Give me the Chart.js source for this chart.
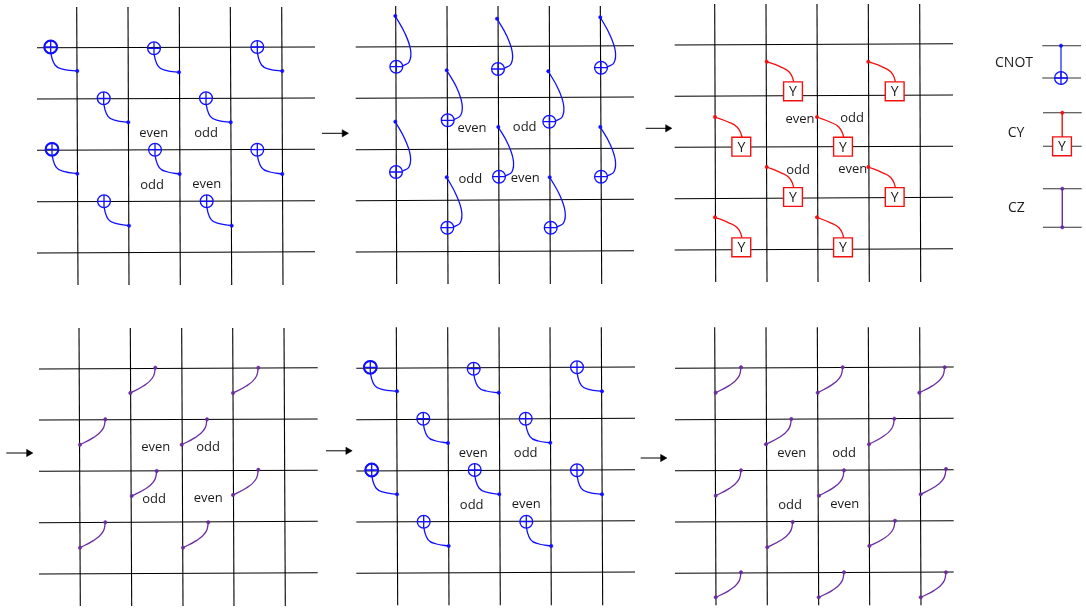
<!DOCTYPE html>
<html>
<head>
<meta charset="utf-8">
<title>Syndrome circuit</title>
<script src="https://cdn.jsdelivr.net/npm/chart.js@4/dist/chart.umd.min.js"></script>
<style>
  html, body { margin: 0; padding: 0; background: #fff; }
  canvas { display: block; }
</style>
</head>
<body>
<canvas id="circuitChart" width="1086" height="610"></canvas>
<script>
// Grid of each of the six panels
const gridLeftX = [37, 355.7, 674.7, 39, 356.3, 675];
const gridRightX = [315, 634, 953, 317.7, 635, 953.7];
const gridTopY = [7, 6, 4, 328, 327.3, 327.3];
const gridBottomY = [285, 284, 282, 606, 605.3, 605.3];
const rowLeftY = [
  [47.7, 99, 150.3, 201.7, 253],
  [47, 98.3, 149.7, 200.7, 252],
  [45, 96.3, 147.3, 198.7, 250],
  [369, 420, 471.3, 522.7, 574],
  [368.3, 419.7, 471, 522, 573.3],
  [368.3, 419.7, 470.7, 522, 573.3],
];
const rowRightY = [
  [47, 98, 149.3, 200.7, 251.7],
  [45.7, 97, 148.3, 199.3, 250.7],
  [43.7, 95, 146.3, 197.3, 248.7],
  [367.7, 419, 470.3, 521.3, 572.7],
  [367, 418.3, 469.7, 520.7, 572],
  [367, 418.3, 469.7, 520.7, 572],
];
const colTopX = [
  [76.7, 128, 179.3, 230.3, 281.7],
  [395.7, 447, 498, 549.3, 600.3],
  [714.7, 766, 817, 868.3, 919.7],
  [79, 130.3, 181.7, 232.7, 284],
  [396.3, 447.7, 499, 550, 601.3],
  [714.7, 766, 817.3, 868.3, 919.7],
];
const colBottomX = [
  [78, 129, 180.3, 231.7, 283],
  [396.7, 448, 499.3, 550.3, 601.7],
  [715.7, 767, 818, 869.3, 920.7],
  [80.3, 131.7, 183, 234, 285.3],
  [397.7, 449, 500.3, 551.3, 602.7],
  [716, 767.3, 818.7, 869.7, 921],
];

// CNOT gates, target below-left of the control (panels 1 and 5)
const cnotTargetX = [50.7, 154, 257.3, 103.7, 206, 52, 155, 257.3, 104, 206.7,
  370.3, 473.7, 577, 423.3, 525.7, 371.7, 474.7, 577, 423.7, 526.3];
const cnotTargetY = [47, 48.3, 47, 98.3, 98.3, 149.3, 149.7, 149.7, 201.3, 201.3,
  367.3, 368.7, 367.3, 418.7, 418.7, 470, 470, 470.3, 521.7, 521.7];
const cnotDotX = [77.3, 179, 282.3, 128.3, 230.7, 77.3, 179.7, 282.3, 129, 231.7,
  397, 498.7, 602, 448, 550.3, 397, 499.3, 602, 448.7, 551.3];
const cnotDotY = [71, 72.3, 71, 122.3, 122.3, 173.7, 174, 174, 225.7, 225.7,
  391.3, 392.7, 391.3, 443, 442.7, 494.3, 494.3, 494.3, 546, 546];
const cnotBendX = [1.2, 4.3, 12.7];
const cnotBendY = [11, 18, 22.3];

// CNOT gates, control above the target (panel 2)
const upTargetX = [396.3, 498, 601, 447.7, 549.3, 396, 499, 601, 447.3, 550.7];
const upTargetY = [66.7, 69, 67.7, 120.3, 121.7, 172, 176.7, 176.7, 227.7, 227.7];
const upDotX = [395.3, 497, 600.3, 446.7, 548.3, 395.3, 498.3, 600.3, 446.7, 549.7];
const upDotY = [16, 18.7, 17.3, 70.3, 71.3, 121.7, 127, 127, 177.3, 177.3];
const upBendX = [8.7, 14.3, 13, 6.3];
const upBendY = [-33.3, -16.7, -5, -0.7];

// Doubled target circles
const boldTargetX = [50.7, 52, 370.3, 371.7];
const boldTargetY = [47, 149.3, 367.3, 470];

// CY gates (panel 3)
const cyBoxX = [793, 894.7, 741.3, 843, 793, 894.7, 741.3, 843];
const cyBoxY = [91.3, 91.3, 146.7, 146.7, 197, 197, 247.3, 247.3];
const cyDotX = [766.7, 868.3, 715, 817, 766.7, 868.3, 715, 817];
const cyDotY = [61.7, 61.7, 117, 117, 167, 167, 217.3, 217.3];
const cyBendX = [-13, -4, -0.6];
const cyBendY = [-24.7, -19.5, -14];

// CZ gates (panels 4 and 6): lower end and upper end
const czLowX = [130.3, 233, 80, 181.7, 131.7, 233, 80, 183,
  715.7, 817.7, 919.3, 766, 869, 715.7, 819, 920.7, 767.3, 869.3, 715.7, 818.7, 920.7];
const czLowY = [393, 393, 444.7, 444.7, 496, 495, 547.7, 547.7,
  392.7, 392.7, 392.7, 444.3, 444.3, 495.7, 495.7, 494.3, 547.3, 546, 597.3, 597.3, 597.3];
const czHighX = [155.3, 258.3, 105.3, 207, 156.7, 258.3, 105.3, 208.3,
  741, 842.7, 944.7, 791.3, 894.3, 741, 844, 946, 792.7, 895, 741, 844, 946];
const czHighY = [367.7, 367.7, 419.3, 419.3, 471, 469.7, 522.3, 522.3,
  367.3, 367.3, 367.3, 419, 418.7, 470.3, 470.3, 469, 522, 520.7, 572.3, 572.3, 572.3];
const czBendX = [-12, -3.7, -0.8];
const czBendY = [18.3, 11.3, 5.5];

// Arrows between the panels
const arrowStartX = [322, 645.7, 6.3, 326, 640.7];
const arrowEndX = [347.3, 670.7, 31.7, 351, 665.7];
const arrowY = [133.3, 128.3, 453, 450.8, 458];

// Legend
const legendWireLeftX = [1042.3, 1042.3, 1043, 1043, 1043, 1043];
const legendWireRightX = [1081, 1081, 1081.7, 1081.7, 1081.7, 1081.7];
const legendWireY = [45.7, 78, 112.7, 146.3, 188.7, 227.3];

// Text
const parityText = ["even", "odd", "odd", "even", "even", "odd", "odd", "even",
  "even", "odd", "odd", "even", "even", "odd", "odd", "even",
  "even", "odd", "odd", "even", "even", "odd", "odd", "even"];
const parityX = [153.7, 206, 152, 206.7, 472, 524.7, 470.3, 525.3,
  800, 852, 798, 852.7, 155.7, 208, 154, 208.3,
  473.3, 525.7, 471.7, 526.3, 791.7, 844, 790, 844.7];
const parityY = [132.7, 132.3, 184.3, 183.3, 127.7, 126, 178, 177.7,
  118.3, 117, 169, 168.3, 446.7, 446.3, 498.3, 497.3,
  452.7, 452.3, 504, 503.3, 452.7, 452, 504, 503.3];
const gateNames = ["CNOT", "CY", "CZ"];
const gateNameX = [1014, 1016, 1016.3];
const gateNameY = [62, 132, 206.7];

const BLUE = "#1010ff";
const RED = "#f40f0f";
const PURPLE = "#6a2ca0";

function zipPoints(xs, ys) {
  return xs.map((x, i) => ({ x: x, y: ys[i] }));
}

function lineSet(points, color, width, order, tension) {
  return {
    data: points,
    showLine: true,
    borderColor: color,
    borderWidth: width,
    pointRadius: 0,
    tension: tension || 0,
    order: order,
  };
}

function markSet(points, style, radius, stroke, fill, width, order, rotation) {
  return {
    data: points,
    showLine: false,
    pointStyle: style,
    pointRadius: radius,
    pointBorderColor: stroke,
    pointBackgroundColor: fill,
    pointBorderWidth: width,
    pointRotation: rotation || 0,
    order: order,
  };
}

// Curve between two read points, with waypoints read relative to one anchor
function curve(start, anchorX, anchorY, bendX, bendY, end, color) {
  const points = [start];
  bendX.forEach((dx, i) => points.push({ x: anchorX + dx, y: anchorY + bendY[i] }));
  points.push(end);
  const set = lineSet(points, color, 1.3, 4);
  set.cubicInterpolationMode = "monotone";
  return set;
}

const datasets = [];

// Grid wires
gridLeftX.forEach((left, p) => {
  rowLeftY[p].forEach((y, i) => {
    datasets.push(lineSet([{ x: left, y: y }, { x: gridRightX[p], y: rowRightY[p][i] }], "#000", 1.1, 6));
  });
  colTopX[p].forEach((x, i) => {
    datasets.push(lineSet([{ x: x, y: gridTopY[p] }, { x: colBottomX[p][i], y: gridBottomY[p] }], "#000", 1.1, 6));
  });
});

// Legend wires and gate stems
legendWireY.forEach((y, i) => {
  datasets.push(lineSet([{ x: legendWireLeftX[i], y: y }, { x: legendWireRightX[i], y: y }], "#333", 1.1, 6));
});
datasets.push(lineSet([{ x: 1061, y: legendWireY[0] }, { x: 1061, y: legendWireY[1] }], "#3a4cff", 1.5, 5));
datasets.push(lineSet([{ x: 1062.2, y: legendWireY[2] }, { x: 1062.2, y: legendWireY[3] }], RED, 1.4, 5));
datasets.push(lineSet([{ x: 1062.3, y: legendWireY[4] }, { x: 1062.3, y: legendWireY[5] }], PURPLE, 1.4, 5));

// CNOT curves
cnotTargetX.forEach((x, i) => {
  const y = cnotTargetY[i];
  datasets.push(curve({ x: x + 0.3, y: y + 6.5 }, x, y, cnotBendX, cnotBendY,
    { x: cnotDotX[i], y: cnotDotY[i] }, BLUE));
});
upTargetX.forEach((x, i) => {
  const y = upTargetY[i];
  const points = [{ x: upDotX[i], y: upDotY[i] }];
  upBendX.forEach((dx, k) => points.push({ x: x + dx, y: y + upBendY[k] }));
  datasets.push(lineSet(points, BLUE, 1.3, 4, 0.4));
});

// CY curves
cyBoxX.forEach((x, i) => {
  const y = cyBoxY[i];
  datasets.push(curve({ x: cyDotX[i], y: cyDotY[i] }, x, y, cyBendX, cyBendY,
    { x: x + 0.7, y: y - 9.5 }, RED));
});

// CZ curves
czLowX.forEach((x, i) => {
  datasets.push(curve({ x: x, y: czLowY[i] }, czHighX[i], czHighY[i], czBendX, czBendY,
    { x: czHighX[i], y: czHighY[i] }, PURPLE));
});

// Gate marks
const targets = zipPoints(cnotTargetX, cnotTargetY).concat(zipPoints(upTargetX, upTargetY), [{ x: 1061, y: 78 }]);
const controls = zipPoints(cnotDotX, cnotDotY).concat(zipPoints(upDotX, upDotY), [{ x: 1061, y: 45.7 }]);
datasets.push(markSet(targets, "circle", 6.4, BLUE, "rgba(0,0,0,0)", 1.3, 2));
datasets.push(markSet(targets, "cross", 6.4, BLUE, BLUE, 1.3, 2));
datasets.push(markSet(zipPoints(boldTargetX, boldTargetY), "circle", 6.4, BLUE, "rgba(0,0,0,0)", 2, 2));
datasets.push(markSet(controls, "circle", 1.7, BLUE, BLUE, 0.5, 2));

const boxes = zipPoints(cyBoxX, cyBoxY).concat([{ x: 1062, y: 146.3 }]);
const redDots = zipPoints(cyDotX, cyDotY).concat([{ x: 1062.3, y: 112.7 }]);
datasets.push(markSet(boxes, "rect", 13.3, RED, "#fff", 1.4, 3));
datasets.push(markSet(redDots, "circle", 1.7, RED, RED, 0.5, 2));

const purpleDots = zipPoints(czLowX, czLowY).concat(zipPoints(czHighX, czHighY),
  [{ x: 1062.3, y: 188.7 }, { x: 1062.3, y: 227.3 }]);
datasets.push(markSet(purpleDots, "circle", 1.7, PURPLE, PURPLE, 0.5, 2));

// Arrows
arrowStartX.forEach((x, i) => {
  datasets.push(lineSet([{ x: x, y: arrowY[i] }, { x: arrowEndX[i], y: arrowY[i] }], "#000", 1, 5));
});
datasets.push(markSet(zipPoints(arrowEndX.map((x) => x - 3), arrowY), "triangle", 4.2, "#000", "#000", 0.5, 2, 90));

// Draw the gate names and even/odd labels through the scales
const labelPlugin = {
  id: "circuitLabels",
  afterDatasetsDraw(chart) {
    const { ctx, scales } = chart;
    const put = (text, x, y) => ctx.fillText(text, scales.x.getPixelForValue(x), scales.y.getPixelForValue(y) + 1);
    ctx.save();
    ctx.fillStyle = "#1a1a1a";
    ctx.textAlign = "center";
    ctx.textBaseline = "middle";
    ctx.font = "13px 'Open Sans', sans-serif";
    parityText.forEach((text, i) => put(text, parityX[i], parityY[i]));
    ctx.font = "14px 'Open Sans', sans-serif";
    gateNames.forEach((text, i) => put(text, gateNameX[i], gateNameY[i]));
    boxes.forEach((box) => put("Y", box.x, box.y));
    ctx.restore();
  },
};

new Chart(document.getElementById("circuitChart").getContext("2d"), {
  type: "scatter",
  data: { datasets: datasets },
  options: {
    responsive: false,
    animation: false,
    layout: { padding: 0, autoPadding: false },
    plugins: {
      legend: { display: false },
      title: { display: false },
      tooltip: { enabled: false },
    },
    scales: {
      x: { type: "linear", min: 0, max: 1086, display: false },
      y: { type: "linear", min: 0, max: 610, reverse: true, display: false },
    },
  },
  plugins: [labelPlugin],
});
</script>
</body>
</html>
